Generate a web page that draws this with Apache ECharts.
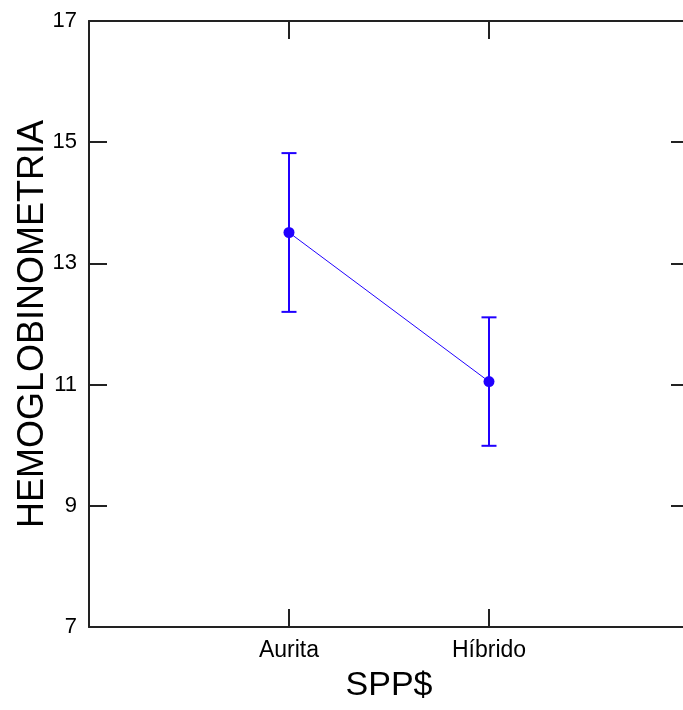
<!DOCTYPE html>
<html><head><meta charset="utf-8">
<script src="https://cdn.jsdelivr.net/npm/echarts@6/dist/echarts.min.js"></script>
<style>html,body{margin:0;padding:0;background:#fff}#c{width:683px;height:710px}</style>
</head><body><div id="c"></div>
<script>
var categories = ['Aurita', 'Híbrido'];
var means = [13.51, 11.05];
var lows = [12.20, 9.99];
var highs = [14.82, 12.11];
var yTicks = [7, 9, 11, 13, 15, 17];

var blue = '#2000ff';
var axisColor = '#222';
var font = "'Liberation Sans', Arial, sans-serif";

var lineData = categories.map(function (c, i) { return [i + 1, means[i]]; });
var errData = categories.map(function (c, i) { return [i + 1, lows[i], highs[i]]; });

var chart = echarts.init(document.getElementById('c'), null, {renderer: 'canvas'});
var baseX = {
  type: 'value', min: 0, max: categories.length + 1, interval: 1,
  axisLine: {show: true, onZero: false, lineStyle: {color: axisColor, width: 2}},
  axisTick: {show: true, inside: true, length: 18, lineStyle: {color: axisColor, width: 2}},
  splitLine: {show: false}
};
var baseY = {
  type: 'value', min: yTicks[0], max: yTicks[yTicks.length - 1], interval: 2,
  axisLine: {show: true, onZero: false, lineStyle: {color: axisColor, width: 2}},
  axisTick: {show: true, inside: true, length: 18, lineStyle: {color: axisColor, width: 2}},
  splitLine: {show: false}
};
chart.setOption({
  animation: false,
  grid: {left: 89, top: 21, width: 600, height: 606, outerBoundsMode: 'none', containLabel: false},
  xAxis: [
    Object.assign({}, baseX, {
      position: 'bottom',
      name: 'SPP$', nameLocation: 'middle', nameGap: 42, nameMoveOverlap: false,
      nameTextStyle: {fontFamily: font, fontSize: 34, color: '#000'},
      axisLabel: {
        margin: 12, fontFamily: font, fontSize: 23, color: '#000',
        formatter: function (v) { return categories[v - 1] || ''; }
      }
    }),
    Object.assign({}, baseX, {position: 'top', axisLabel: {show: false}})
  ],
  yAxis: [
    Object.assign({}, baseY, {
      position: 'left',
      name: 'HEMOGLOBINOMETRIA', nameLocation: 'middle', nameGap: 38, nameMoveOverlap: false,
      nameTextStyle: {fontFamily: font, fontSize: 36, color: '#000'},
      axisLabel: {margin: 12, fontFamily: font, fontSize: 22, color: '#000'}
    }),
    Object.assign({}, baseY, {position: 'right', axisLabel: {show: false}})
  ],
  series: [
    {
      type: 'custom', xAxisIndex: 0, yAxisIndex: 0,
      data: errData,
      renderItem: function (params, api) {
        var x = api.value(0);
        var lo = api.coord([x, api.value(1)]);
        var hi = api.coord([x, api.value(2)]);
        var hw = 7.5;
        var st = {stroke: blue, lineWidth: 2};
        return {
          type: 'group',
          children: [
            {type: 'line', shape: {x1: lo[0], y1: lo[1], x2: hi[0], y2: hi[1]}, style: st},
            {type: 'line', shape: {x1: lo[0] - hw, y1: lo[1], x2: lo[0] + hw, y2: lo[1]}, style: st},
            {type: 'line', shape: {x1: hi[0] - hw, y1: hi[1], x2: hi[0] + hw, y2: hi[1]}, style: st}
          ]
        };
      },
      z: 2
    },
    {
      type: 'line', xAxisIndex: 0, yAxisIndex: 0,
      data: lineData,
      symbol: 'circle', symbolSize: 11,
      lineStyle: {color: blue, width: 1},
      itemStyle: {color: blue},
      z: 3
    }
  ]
});
</script></body></html>
